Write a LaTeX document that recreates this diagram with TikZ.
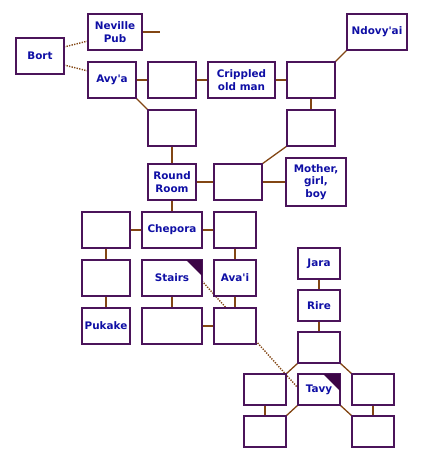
\documentclass[tikz,border=0pt]{standalone}
\usepackage{fontspec}
\setmainfont{DejaVu Sans}
\usetikzlibrary{positioning,backgrounds}

\definecolor{roomline}{RGB}{75,20,90}
\definecolor{roomcorner}{RGB}{60,5,70}
\definecolor{pathline}{RGB}{130,70,20}
\definecolor{roomtext}{RGB}{15,15,165}

\begin{document}
\begin{tikzpicture}[
    x=1pt, y=-1pt,
    room/.style={
        draw=roomline,
        line width=2pt,
        outer sep=0pt,
        fill=white,
        align=center,
        minimum width=48pt,
        minimum height=36pt,
        inner sep=1pt,
        text=roomtext,
        font=\bfseries\fontsize{10.4}{12.5}\selectfont
    },
    smallroom/.style={
        room,
        minimum width=42pt,
        minimum height=31pt
    },
    link/.style={draw=pathline, line width=1.3pt},
    secret/.style={link, line width=1.4pt, dash pattern=on 1.3pt off 1.3pt},
    node distance=12pt
]
\useasboundingbox (0,0) rectangle (421,465);

% Row 1
\node[room] (bort) at (40,56) {Bort};
\node[room] (avya) at (112,80) {Avy\textquotesingle a};
\node[room, minimum width=54pt, above=of avya.north west, anchor=south west] (neville) {Neville\\ Pub};
\node[room, right=of avya] (passa) {};
\node[room, right=of passa, minimum width=67pt] (crippled) {Crippled\\ old man};
\node[room, right=of crippled] (junction) {};
\node[room, above right=12pt and 12pt of junction, minimum width=60pt] (ndovyai) {Ndovy\textquotesingle ai};
\coordinate[right=18pt of neville.east] (pubstub);

% Row 2
\node[room, below=of passa] (passb) {};
\node[room, below=of junction] (junctionlow) {};

% Row 3
\node[room, below=18pt of passb] (roundroom) {Round\\ Room};
\node[room, right=18pt of roundroom] (roundeast) {};
\node[room, right=24pt of roundeast, minimum width=60pt, minimum height=48pt] (family) {Mother,\\ girl,\\ boy};

% Row 4
\node[room, below=of roundroom, minimum width=60pt] (chepora) {Chepora};
\node[room, left=of chepora] (chepwest) {};
\node[room, right=of chepora, minimum width=42pt] (chepeast) {};

% Row 5
\node[room, below=of chepwest] (westmid) {};
\node[room, below=of chepora, minimum width=60pt] (stairs) {Stairs};
\node[room, below=of chepeast, minimum width=42pt] (avai) {Ava\textquotesingle i};

% Row 6
\node[room, below=of westmid] (pukake) {Pukake};
\node[room, below=of stairs, minimum width=60pt] (stairsbelow) {};
\node[room, below=of avai, minimum width=42pt] (avaibelow) {};

% Tavy
\node[smallroom] (jara) at (319,263.5) {Jara};
\node[smallroom, below=11pt of jara] (rire) {Rire};
\node[smallroom, below=11pt of rire] (rirebelow) {};
\node[smallroom, below=11pt of rirebelow] (tavy) {Tavy};
\node[smallroom, left=of tavy] (tavywest) {};
\node[smallroom, right=of tavy] (tavyeast) {};
\node[smallroom, below=11pt of tavywest] (tavysw) {};
\node[smallroom, below=11pt of tavyeast] (tavyse) {};

\fill[roomcorner] (stairs.north east) -- ++(-16pt,0pt) -- ++(16pt,-16pt) -- cycle;
\fill[roomcorner] (tavy.north east) -- ++(-17pt,0pt) -- ++(17pt,-17pt) -- cycle;

% Paths
\begin{scope}[on background layer]
\draw[secret] ([yshift=9pt]bort.east) -- ([yshift=-9pt]neville.west);
\draw[secret] ([yshift=-9pt]bort.east) -- ([yshift=9pt]avya.west);
\draw[secret] ([yshift=-3pt]stairs.east) -- ([yshift=1.5pt]tavy.west);

\draw[link] (neville) -- (pubstub);
\draw[link] (avya) -- (passa);
\draw[link] (passa) -- (crippled);
\draw[link] (crippled) -- (junction);
\draw[link] (junction.north east) -- (ndovyai.south west);
\draw[link] (junction) -- (junctionlow);
\draw[link] (avya.south east) -- (passb.north west);
\draw[link] (passb) -- (roundroom);
\draw[link] (junctionlow.south west) -- (roundeast.north east);
\draw[link] (roundroom) -- (roundeast);
\draw[link] (roundeast) -- (family);
\draw[link] (roundroom) -- (chepora);
\draw[link] (chepwest) -- (chepora);
\draw[link] (chepora) -- (chepeast);
\draw[link] (chepwest) -- (westmid);
\draw[link] (westmid) -- (pukake);
\draw[link] (stairs) -- (stairsbelow);
\draw[link] (chepeast) -- (avai);
\draw[link] (avai) -- (avaibelow);
\draw[link] (stairsbelow) -- (avaibelow);

\draw[link] (jara) -- (rire);
\draw[link] (rire) -- (rirebelow);
\draw[link] (rirebelow.south west) -- (tavywest.north east);
\draw[link] (rirebelow.south east) -- (tavyeast.north west);
\draw[link] (tavy.south west) -- (tavysw.north east);
\draw[link] (tavy.south east) -- (tavyse.north west);
\draw[link] (tavywest) -- (tavysw);
\draw[link] (tavyeast) -- (tavyse);
\end{scope}

\end{tikzpicture}
\end{document}
